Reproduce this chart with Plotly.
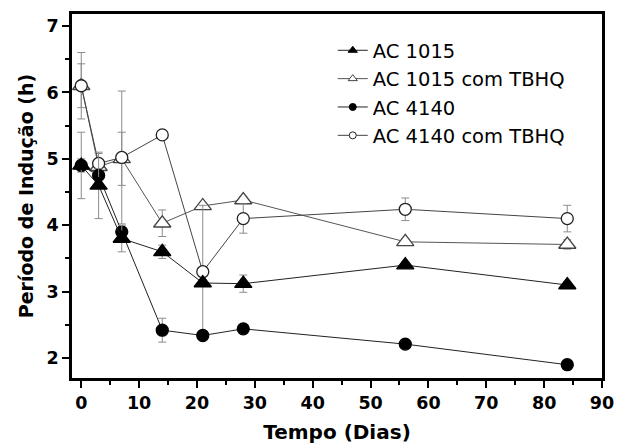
import plotly.graph_objects as go

# Sampling days
dias = [0, 3, 7, 14, 21, 28, 56, 84]

# Induction period (h) and standard deviations per sample
ac1015 = [4.90, 4.60, 3.80, 3.60, 3.13, 3.12, 3.40, 3.10]
ac1015_err = [0.50, 0.50, 0.20, 0.10, 0.05, 0.13, 0.05, 0.05]

ac1015_tbhq = [6.10, 4.88, 5.00, 4.03, 4.29, 4.38, 3.75, 3.71]
ac1015_tbhq_err = [0.33, 0.10, 0.40, 0.20, 0.05, 0.05, 0.05, 0.07]

ac4140 = [4.90, 4.75, 3.90, 2.42, 2.34, 2.44, 2.21, 1.90]
ac4140_err = [0.10, 0.10, 0.05, 0.18, 0.05, 0.05, 0.05, 0.06]

ac4140_tbhq = [6.10, 4.93, 5.02, 5.36, 3.30, 4.10, 4.24, 4.10]
ac4140_tbhq_err = [0.50, 0.15, 1.00, 0.05, 1.00, 0.22, 0.17, 0.20]

x_ticks = [0, 10, 20, 30, 40, 50, 60, 70, 80, 90]
y_ticks = [2, 3, 4, 5, 6, 7]

FONT = "DejaVu Sans, Liberation Sans, sans-serif"
ERR_COLOR = "#8c8c8c"

series = [
    # name, values, errors, symbol, fill, outline, line colour, marker size
    ("AC 1015 com TBHQ", ac1015_tbhq, ac1015_tbhq_err, "triangle-up", "white", "#444", "#555", 15),
    ("AC 4140 com TBHQ", ac4140_tbhq, ac4140_tbhq_err, "circle", "white", "#222", "#444", 12),
    ("AC 4140", ac4140, ac4140_err, "circle", "black", "black", "#222", 12),
    ("AC 1015", ac1015, ac1015_err, "triangle-up", "black", "black", "#222", 15),
]

fig = go.Figure()

for name, vals, errs, sym, fill, edge, lcol, size in series:
    fig.add_trace(go.Scatter(
        x=dias, y=vals, mode="lines+markers", name=name, showlegend=False,
        line=dict(color=lcol, width=1),
        marker=dict(symbol=sym, size=size, color=fill, line=dict(color=edge, width=1.3)),
        error_y=dict(type="data", array=errs, visible=True, color=ERR_COLOR,
                     thickness=1, width=4),
        cliponaxis=False,
    ))

# Legend entries with compact symbols
legend_order = ["AC 1015", "AC 1015 com TBHQ", "AC 4140", "AC 4140 com TBHQ"]
lookup = {s[0]: s for s in series}
for name in legend_order:
    _, _, _, sym, fill, edge, lcol, size = lookup[name]
    fig.add_trace(go.Scatter(
        x=[None], y=[None], mode="lines+markers", name=name,
        line=dict(color=lcol, width=1),
        marker=dict(symbol=sym, size=7 if sym == "circle" else 8, color=fill,
                    line=dict(color=edge, width=1)),
    ))

axis_common = dict(
    showline=True, linecolor="black", linewidth=2.5, mirror=True,
    ticks="outside", ticklen=7, tickwidth=2, tickcolor="black",
    showgrid=False, zeroline=False, automargin=False,
    ticklabeloverflow="allow",
    tickfont=dict(family=FONT, size=17.5, color="black", weight="bold"),
)

fig.update_layout(
    width=617, height=447,
    margin=dict(l=72, r=15, t=14, b=69),
    paper_bgcolor="white", plot_bgcolor="white",
    xaxis=dict(
        range=[-1.6, 90], tickvals=x_ticks,
        minor=dict(dtick=5, tick0=0, ticks="outside", ticklen=4, tickwidth=2, tickcolor="black"),
        title=dict(text="Tempo (Dias)", standoff=14,
                   font=dict(family=FONT, size=20, color="black", weight="bold")),
        **axis_common,
    ),
    yaxis=dict(
        range=[1.70, 7.18], tickvals=y_ticks,
        minor=dict(dtick=0.5, tick0=0, ticks="outside", ticklen=4, tickwidth=2, tickcolor="black"),
        title=dict(text="Período de Indução (h)", standoff=8,
                   font=dict(family=FONT, size=19, color="black", weight="bold")),
        **axis_common,
    ),
    legend=dict(
        x=0.492, y=0.953, xanchor="left", yanchor="top",
        bgcolor="rgba(0,0,0,0)", borderwidth=0,
        font=dict(family=FONT, size=19.5, color="black"),
        tracegroupgap=0,
    ),
)

fig.write_html("out.html")
